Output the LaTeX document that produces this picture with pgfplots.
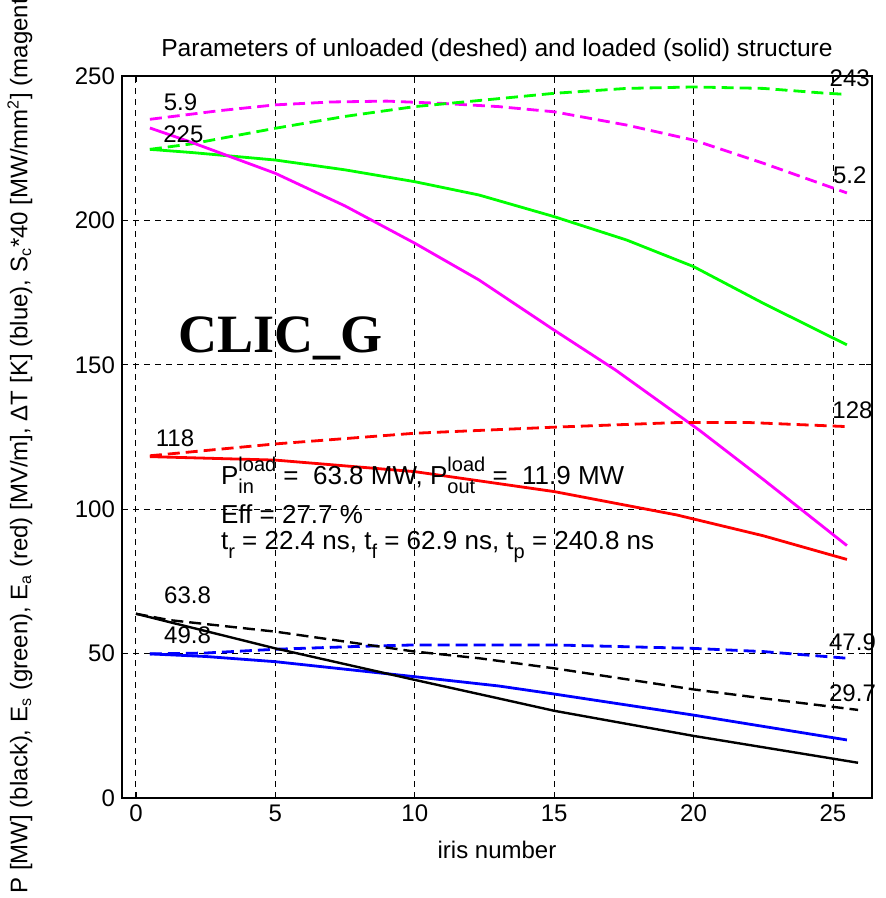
\documentclass[border=0pt]{standalone}
\usepackage{fontspec}
\setmainfont{Liberation Sans}
\newfontfamily\serifbf{Liberation Serif}
\usepackage{pgfplots}
\pgfplotsset{compat=1.18}
\definecolor{mgreen}{rgb}{0,1,0}
\definecolor{mmag}{rgb}{1,0,1}
\definecolor{mred}{rgb}{1,0,0}
\definecolor{mblue}{rgb}{0,0,1}

% superscript over subscript, MATLAB style (first arg is the wider one)
\newcommand{\sbsp}[2]{\makebox[0pt][l]{\raisebox{6.5pt}{\fontsize{10}{11}\selectfont #1}}\makebox[0pt][l]{\raisebox{-4.5pt}{\fontsize{10}{11}\selectfont #2}}\hphantom{\fontsize{10}{11}\selectfont #1}}
\newcommand{\sub}[1]{\raisebox{-4.5pt}{\fontsize{10}{11}\selectfont #1}}

\begin{document}
\begin{tikzpicture}[font=\fontsize{12}{14}\selectfont]
\useasboundingbox (-61pt,-50pt) rectangle (381.5pt,399pt);
\begin{axis}[
  at={(0,0)}, anchor=south west,
  width=375pt, height=361pt, scale only axis,
  xmin=-0.5, xmax=26.4, ymin=0, ymax=250,
  xtick={0,5,...,25}, ytick={0,50,...,250},
  tick align=inside, major tick length=3pt,
  tick style={black, line width=0.6pt},
  axis line style={line width=0.7pt},
  grid=major,
  grid style={black, line width=0.45pt, dash pattern=on 3pt off 2.5pt},
  /pgf/number format/assume math mode=true,
  ticklabel style={font=\fontsize{12}{14}\selectfont},
  title={Parameters of unloaded (deshed) and loaded (solid) structure},
  title style={at={(axis description cs:0.5,1.019)}, anchor=center, font=\fontsize{12.3}{14}\selectfont},
  xlabel={iris number},
  xlabel style={at={(axis description cs:0.5,-0.072)}, anchor=center},
  clip mode=individual,
  every axis plot/.append style={line width=1.4pt},
]
% S_c*40 unloaded
\addplot[mmag, dash pattern=on 6pt off 3pt] coordinates {(0.5,235) (3,238) (5,240) (7,241) (9,241.3) (11,240.5) (13,239.4) (15,237.6) (17.6,233) (20,227.8) (22.5,219.8) (25.5,209.5)};
% E_s unloaded
\addplot[mgreen, dash pattern=on 6pt off 3pt] coordinates {(0.5,224.6) (2,226.5) (5,231.9) (7.5,236) (10,239.4) (12.3,241.5) (15,244) (17.6,245.7) (20,246.2) (22.5,245.7) (24.5,244.2) (25.5,243.6)};
% E_s loaded
\addplot[mgreen] coordinates {(0.5,224.6) (2,223.5) (5,220.9) (7.5,217.5) (10,213.4) (12.3,208.8) (15,201.3) (17.6,193.2) (20,184) (22.5,171.3) (25.5,156.9)};
% S_c*40 loaded
\addplot[mmag] coordinates {(0.5,232) (2,227) (5,216.3) (7.5,205) (10,192.1) (12.3,179.4) (15,162) (17.2,148.2) (20.2,127.4) (22.5,110.3) (25.5,87.4)};
% E_a unloaded
\addplot[mred, dash pattern=on 6pt off 3pt] coordinates {(0.5,118.5) (1.6,119.5) (5,122.6) (10,126.3) (15,128.4) (19.4,130) (22,130) (25.5,128.6)};
% E_a loaded
\addplot[mred] coordinates {(0.5,118.2) (5,117) (10,113) (15,106.1) (19.4,98) (22.5,90.8) (25.5,82.6)};
% dT unloaded
\addplot[mblue, dash pattern=on 6pt off 3pt] coordinates {(0.5,49.9) (2.5,50.2) (5,51.5) (8,52.5) (10,53) (15,53) (20,51.8) (22.5,50.7) (25.5,48.4)};
% dT loaded
\addplot[mblue] coordinates {(0.5,49.9) (2.5,49) (5,47.2) (10,42) (13,38.8) (15,36) (20,28.7) (25.5,20.1)};
% P unloaded
\addplot[black, line width=1.2pt, dash pattern=on 6pt off 3pt] coordinates {(0,63.8) (1.2,61.6) (5,57.6) (10,50.7) (12.3,48.4) (15,44.9) (20,37.6) (22.5,34.5) (25.9,30.5)};
% P loaded
\addplot[black, line width=1.2pt] coordinates {(0,63.8) (2.5,57.8) (5,51.8) (10,40.9) (13,34.5) (15,30.2) (20,21.5) (25.9,12.2)};

\node at (axis cs:1.6,240.9) {5.9};
\node at (axis cs:1.7,230) {225};
\node at (axis cs:25.6,249.2) {243};
\node at (axis cs:25.6,215.7) {5.2};
\node at (axis cs:25.7,134.1) {128};
\node at (axis cs:1.4,124.7) {118};
\node at (axis cs:1.85,70.3) {63.8};
\node at (axis cs:1.85,56.4) {49.8};
\node at (axis cs:25.7,54.1) {47.9};
\node at (axis cs:25.7,36.3) {29.7};

\node[anchor=base, font=\serifbf\bfseries\fontsize{27}{30}\selectfont] at (axis cs:5.2,154.4) {CLIC\_G};

\begin{scope}[every node/.style={anchor=west, inner sep=0pt, font=\fontsize{13}{15}\selectfont}]
\node at (axis cs:3.04,111.8) {P\sbsp{load}{in} =\ \ 63.8 MW, P\sbsp{load}{out} =\ \ 11.9 MW};
\node at (axis cs:3.04,98.3) {Eff = 27.7 \%};
\node at (axis cs:3.04,87) {t\sub{r} = 22.4 ns, t\sub{f} = 62.9 ns, t\sub{p} = 240.8 ns};
\end{scope}
\end{axis}
\node[rotate=90] at (-51pt,181.5pt) {P [MW] (black), E\textsubscript{s} (green), E\textsubscript{a} (red) [MV/m], ΔT [K] (blue), S\textsubscript{c}*40 [MW/mm\textsuperscript{2}] (magenta)};
\end{tikzpicture}
\end{document}
